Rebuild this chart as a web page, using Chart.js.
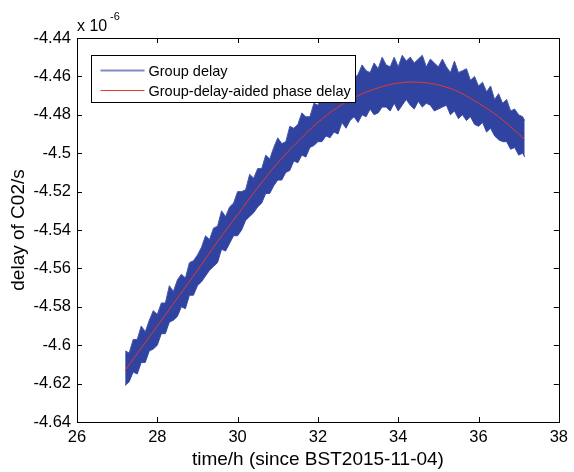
<!DOCTYPE html>
<html>
<head>
<meta charset="utf-8">
<script src="https://cdn.jsdelivr.net/npm/chart.js@4.4.1/dist/chart.umd.min.js"></script>
<style>
  html, body { margin: 0; padding: 0; background: #fff; }
  #wrap { width: 574px; height: 472px; }
</style>
</head>
<body>
<div id="wrap"><canvas id="chart"></canvas></div>
<script>
// Values in units of 1e-6 s (the axis shows "x 10^-6")

// sample times of the group-delay band, hours
const bandTimes = [
  27.2, 27.3, 27.4, 27.5, 27.6, 27.7, 27.8, 27.9, 28.0, 28.1,
  28.2, 28.3, 28.4, 28.5, 28.6, 28.7, 28.8, 28.9, 29.0, 29.1,
  29.2, 29.3, 29.4, 29.5, 29.6, 29.7, 29.8, 29.9, 30.0, 30.1,
  30.2, 30.3, 30.4, 30.5, 30.6, 30.7, 30.8, 30.9, 31.0, 31.1,
  31.2, 31.3, 31.4, 31.5, 31.6, 31.7, 31.8, 31.9, 32.0, 32.1,
  32.2, 32.3, 32.4, 32.5, 32.6, 32.7, 32.8, 32.9, 33.0, 33.1,
  33.2, 33.3, 33.4, 33.5, 33.6, 33.7, 33.8, 33.9, 34.0, 34.1,
  34.2, 34.3, 34.4, 34.5, 34.6, 34.7, 34.8, 34.9, 35.0, 35.1,
  35.2, 35.3, 35.4, 35.5, 35.6, 35.7, 35.8, 35.9, 36.0, 36.1,
  36.2, 36.3, 36.4, 36.5, 36.6, 36.7, 36.8, 36.9, 37.0, 37.1,
  37.15,
];

// upper edge of the noisy group delay band
const groupDelayHigh = [
  -4.603, -4.604, -4.597, -4.597, -4.590, -4.593, -4.587, -4.582, -4.584, -4.578,
  -4.578, -4.569, -4.572, -4.566, -4.563, -4.565, -4.557, -4.556, -4.553, -4.549,
  -4.543, -4.545, -4.539, -4.538, -4.530, -4.533, -4.528, -4.526, -4.520, -4.520,
  -4.519, -4.511, -4.513, -4.508, -4.508, -4.501, -4.503, -4.497, -4.492, -4.495,
  -4.494, -4.486, -4.487, -4.485, -4.479, -4.481, -4.481, -4.474, -4.475, -4.470,
  -4.467, -4.470, -4.466, -4.461, -4.465, -4.464, -4.458, -4.461, -4.459, -4.454,
  -4.457, -4.458, -4.453, -4.456, -4.450, -4.454, -4.455, -4.450, -4.455, -4.449,
  -4.452, -4.450, -4.453, -4.451, -4.449, -4.455, -4.451, -4.453, -4.455, -4.451,
  -4.455, -4.458, -4.452, -4.458, -4.457, -4.456, -4.462, -4.460, -4.465, -4.463,
  -4.468, -4.465, -4.472, -4.469, -4.474, -4.472, -4.478, -4.477, -4.480, -4.481,
  -4.483,
];

// lower edge of the noisy group delay band
const groupDelayLow = [
  -4.621, -4.619, -4.614, -4.615, -4.609, -4.609, -4.603, -4.602, -4.600, -4.594,
  -4.594, -4.588, -4.587, -4.585, -4.580, -4.581, -4.574, -4.574, -4.569, -4.567,
  -4.564, -4.561, -4.559, -4.557, -4.550, -4.551, -4.547, -4.543, -4.543, -4.540,
  -4.535, -4.533, -4.531, -4.528, -4.526, -4.521, -4.521, -4.517, -4.514, -4.514,
  -4.510, -4.509, -4.504, -4.505, -4.501, -4.502, -4.497, -4.496, -4.494, -4.494,
  -4.491, -4.492, -4.489, -4.490, -4.484, -4.487, -4.483, -4.481, -4.484, -4.480,
  -4.481, -4.477, -4.480, -4.479, -4.476, -4.476, -4.478, -4.474, -4.478, -4.475,
  -4.472, -4.475, -4.477, -4.473, -4.476, -4.474, -4.475, -4.478, -4.477, -4.476,
  -4.475, -4.480, -4.478, -4.482, -4.480, -4.483, -4.481, -4.485, -4.486, -4.484,
  -4.489, -4.487, -4.491, -4.493, -4.494, -4.494, -4.498, -4.497, -4.501, -4.500,
  -4.502,
];

// smooth group-delay-aided phase delay
const phaseTimes = [
  27.2, 28.0, 28.5, 29.0, 29.5, 30.0, 30.5, 31.0, 31.5, 32.0, 32.5,
  33.0, 33.5, 34.0, 34.5, 35.0, 35.5, 36.0, 36.5, 37.0, 37.15,
];
const phaseDelay = [
  -4.613, -4.590, -4.5755, -4.561, -4.546, -4.532, -4.518, -4.505, -4.494, -4.484, -4.476,
  -4.470, -4.466, -4.4635, -4.463, -4.4645, -4.468, -4.474, -4.481, -4.490, -4.493,
];

const xTicks = { min: 26, max: 38, step: 2 };
const yTicks = { min: -4.64, max: -4.44, step: 0.02 };

const seriesNames = ['Group delay', 'Group-delay-aided phase delay'];

const FONT = "'Liberation Sans', Arial, Helvetica, sans-serif";
const BLUE = '#3143a0';
const BLUE_EDGE = '#4657aa';
const RED = '#e03a30';

const toPoints = (xs, ys) => xs.map((x, i) => ({ x, y: ys[i] }));

// MATLAB style box with inward ticks on all four sides
const boxPlugin = {
  id: 'matlabBox',
  afterDraw(chart) {
    const { ctx, chartArea: a, scales } = chart;
    const len = 5;
    ctx.save();
    ctx.strokeStyle = '#000';
    ctx.lineWidth = 1;
    ctx.beginPath();
    scales.x.ticks.forEach(t => {
      const px = Math.round(scales.x.getPixelForValue(t.value)) + 0.5;
      ctx.moveTo(px, a.bottom); ctx.lineTo(px, a.bottom - len);
      ctx.moveTo(px, a.top); ctx.lineTo(px, a.top + len);
    });
    scales.y.ticks.forEach(t => {
      const py = Math.round(scales.y.getPixelForValue(t.value)) + 0.5;
      ctx.moveTo(a.left, py); ctx.lineTo(a.left + len, py);
      ctx.moveTo(a.right, py); ctx.lineTo(a.right - len, py);
    });
    ctx.stroke();
    ctx.strokeRect(Math.round(a.left) + 0.5, Math.round(a.top) + 0.5,
      Math.round(a.right - a.left), Math.round(a.bottom - a.top));

    // exponent label
    ctx.fillStyle = '#000';
    ctx.textBaseline = 'alphabetic';
    ctx.font = `16px ${FONT}`;
    ctx.fillText('x 10', a.left, a.top - 7);
    ctx.font = `11px ${FONT}`;
    ctx.fillText('-6', a.left + 33, a.top - 18);
    ctx.restore();
  },
};

// legend box drawn inside the axes, over the data
const legendPlugin = {
  id: 'insideLegend',
  afterDatasetsDraw(chart) {
    const { ctx, chartArea: a } = chart;
    const x0 = a.left + 14.5, y0 = a.top + 17.5, w = 264, h = 47;
    ctx.save();
    ctx.fillStyle = '#fff';
    ctx.fillRect(x0, y0, w, h);
    ctx.strokeStyle = '#000';
    ctx.lineWidth = 1;
    ctx.strokeRect(x0, y0, w, h);
    const rows = [
      { label: seriesNames[0], color: '#7f8cc8', width: 2 },
      { label: seriesNames[1], color: RED, width: 1 },
    ];
    ctx.font = `14.5px ${FONT}`;
    ctx.textBaseline = 'middle';
    rows.forEach((r, i) => {
      const y = y0 + 15 + i * 20;
      ctx.strokeStyle = r.color;
      ctx.lineWidth = r.width;
      ctx.beginPath();
      ctx.moveTo(x0 + 9, y);
      ctx.lineTo(x0 + 53, y);
      ctx.stroke();
      ctx.fillStyle = '#000';
      ctx.fillText(r.label, x0 + 57, y + 1);
    });
    ctx.restore();
  },
};

const tickFont = { family: FONT, size: 16.5 };
const titleFont = { family: FONT, size: 19 };

new Chart(document.getElementById('chart'), {
  type: 'line',
  data: {
    datasets: [
      {
        label: seriesNames[1],
        data: toPoints(phaseTimes, phaseDelay),
        borderColor: RED,
        borderWidth: 1,
        pointRadius: 0,
        tension: 0.4,
        fill: false,
      },
      {
        label: seriesNames[0],
        data: toPoints(bandTimes, groupDelayHigh),
        borderColor: BLUE_EDGE,
        backgroundColor: BLUE,
        borderWidth: 1,
        pointRadius: 0,
        tension: 0,
        fill: '+1',
      },
      {
        label: seriesNames[0] + ' (low)',
        data: toPoints(bandTimes, groupDelayLow),
        borderColor: BLUE_EDGE,
        borderWidth: 1,
        pointRadius: 0,
        tension: 0,
        fill: false,
      },
    ],
  },
  options: {
    responsive: true,
    maintainAspectRatio: false,
    animation: false,
    layout: { padding: { left: 0, top: 38, right: 11, bottom: 0 } },
    plugins: {
      legend: { display: false },
      tooltip: { enabled: false },
    },
    scales: {
      x: {
        type: 'linear',
        min: xTicks.min,
        max: xTicks.max,
        grid: { display: false, drawTicks: false },
        border: { display: false },
        ticks: {
          stepSize: xTicks.step,
          color: '#000',
          font: tickFont,
          padding: 6,
          maxRotation: 0,
        },
        title: {
          display: true,
          text: 'time/h (since BST2015-11-04)',
          color: '#000',
          font: titleFont,
          padding: { top: 0, bottom: 1 },
        },
        afterFit(scale) { scale.height = 50; },
      },
      y: {
        type: 'linear',
        min: yTicks.min,
        max: yTicks.max,
        grid: { display: false, drawTicks: false },
        border: { display: false },
        ticks: {
          stepSize: yTicks.step,
          color: '#000',
          font: tickFont,
          padding: 6,
          callback: v => String(parseFloat(v.toFixed(2))),
        },
        title: {
          display: true,
          text: 'delay of C02/s',
          color: '#000',
          font: titleFont,
          padding: { top: 7, bottom: 0 },
        },
        afterFit(scale) { scale.width = 77; },
      },
    },
  },
  plugins: [legendPlugin, boxPlugin],
});
</script>
</body>
</html>
